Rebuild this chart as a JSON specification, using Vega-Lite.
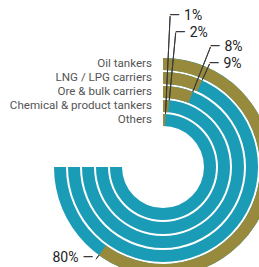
{
  "$schema": "https://vega.github.io/schema/vega-lite/v6.json",
  "width": 192,
  "height": 200,
  "autosize": {"type": "none"},
  "padding": {"left": 67, "top": 67, "right": 0, "bottom": 0},
  "background": "white",
  "config": {"view": {"stroke": null}, "text": {"font": "Roboto"}},
  "data": {
    "values": [
      {"type": "Oil tankers", "share": 80, "ring": 5, "label": "80%"},
      {"type": "LNG / LPG carriers", "share": 9, "ring": 4, "label": "9%"},
      {"type": "Ore & bulk carriers", "share": 8, "ring": 3, "label": "8%"},
      {"type": "Chemical & product tankers", "share": 2, "ring": 2, "label": "2%"},
      {"type": "Others", "share": 1, "ring": 1, "label": "1%"}
    ]
  },
  "resolve": {"scale": {"radius": "independent"}},
  "layer": [
    {
      "mark": {"type": "arc", "color": "#1a9bb6", "theta": 0, "theta2": 4.71238898, "radius2Offset": -12},
      "encoding": {
        "radius": {"field": "ring", "type": "quantitative", "scale": {"type": "linear", "domain": [0, 5], "range": [39, 109], "zero": false}},
        "radius2": {"field": "ring"}
      }
    },
    {
      "mark": {"type": "arc", "color": "#978a3d", "radius2Offset": -12},
      "encoding": {
        "theta": {"field": "share", "type": "quantitative", "stack": null, "scale": {"domain": [0, 100], "range": [0, 4.71238898]}},
        "radius": {"field": "ring", "type": "quantitative", "scale": {"type": "linear", "domain": [0, 5], "range": [39, 109], "zero": false}},
        "radius2": {"field": "ring"}
      }
    },
    {
      "mark": {"type": "arc", "filled": false, "stroke": "#3a3a3a", "strokeWidth": 1, "radius2": 109},
      "encoding": {
        "theta": {"field": "share", "type": "quantitative", "stack": null},
        "theta2": {"field": "share"},
        "radius": {"field": "ring", "type": "quantitative", "scale": {"type": "linear", "domain": [0, 5], "range": [39, 109], "zero": false}}
      }
    },
    {
      "mark": {"type": "arc", "filled": false, "stroke": "#3a3a3a", "strokeWidth": 1, "radius2": 109},
      "encoding": {
        "theta": {"field": "share", "type": "quantitative", "stack": null},
        "theta2": {"field": "share"},
        "radius": {"field": "ring", "type": "quantitative", "scale": {"type": "linear", "domain": [1, 2, 3, 4, 5], "range": [151, 135, 129, 113, 114], "zero": false}}
      }
    },
    {
      "transform": [{"filter": "datum.share < 50"}],
      "mark": {"type": "text", "text": "—", "align": "left", "baseline": "middle", "dx": -1, "fontSize": 14, "color": "#3a3a3a"},
      "encoding": {
        "theta": {"field": "share", "type": "quantitative", "stack": null},
        "radius": {"field": "ring", "type": "quantitative", "scale": {"type": "linear", "domain": [1, 2, 3, 4, 5], "range": [151, 135, 129, 113, 114], "zero": false}}
      }
    },
    {
      "transform": [{"filter": "datum.share < 50"}],
      "mark": {"type": "text", "align": "left", "baseline": "middle", "dx": 14, "fontSize": 14, "color": "#222222"},
      "encoding": {
        "text": {"field": "label"},
        "theta": {"field": "share", "type": "quantitative", "stack": null},
        "radius": {"field": "ring", "type": "quantitative", "scale": {"type": "linear", "domain": [1, 2, 3, 4, 5], "range": [151, 135, 129, 113, 114], "zero": false}}
      }
    },
    {
      "transform": [{"filter": "datum.share >= 50"}],
      "mark": {"type": "text", "text": "—", "align": "right", "baseline": "middle", "dx": 2, "dy": 2, "fontSize": 14, "color": "#3a3a3a", "thetaOffset": 0.05},
      "encoding": {
        "theta": {"field": "share", "type": "quantitative", "stack": null},
        "radius": {"field": "ring", "type": "quantitative", "scale": {"type": "linear", "domain": [1, 2, 3, 4, 5], "range": [151, 135, 129, 113, 114], "zero": false}}
      }
    },
    {
      "transform": [{"filter": "datum.share >= 50"}],
      "mark": {"type": "text", "align": "right", "baseline": "middle", "dx": -13, "dy": 2, "fontSize": 14, "color": "#222222", "thetaOffset": 0.05},
      "encoding": {
        "text": {"field": "label"},
        "theta": {"field": "share", "type": "quantitative", "stack": null},
        "radius": {"field": "ring", "type": "quantitative", "scale": {"type": "linear", "domain": [1, 2, 3, 4, 5], "range": [151, 135, 129, 113, 114], "zero": false}}
      }
    },
    {
      "mark": {"type": "text", "align": "right", "baseline": "middle", "dx": -11, "dy": 6, "fontSize": 11.6, "color": "#555555", "theta": 0},
      "encoding": {
        "text": {"field": "type"},
        "radius": {"field": "ring", "type": "quantitative", "scale": {"type": "linear", "domain": [0, 5], "range": [39, 109], "zero": false}}
      }
    }
  ]
}
